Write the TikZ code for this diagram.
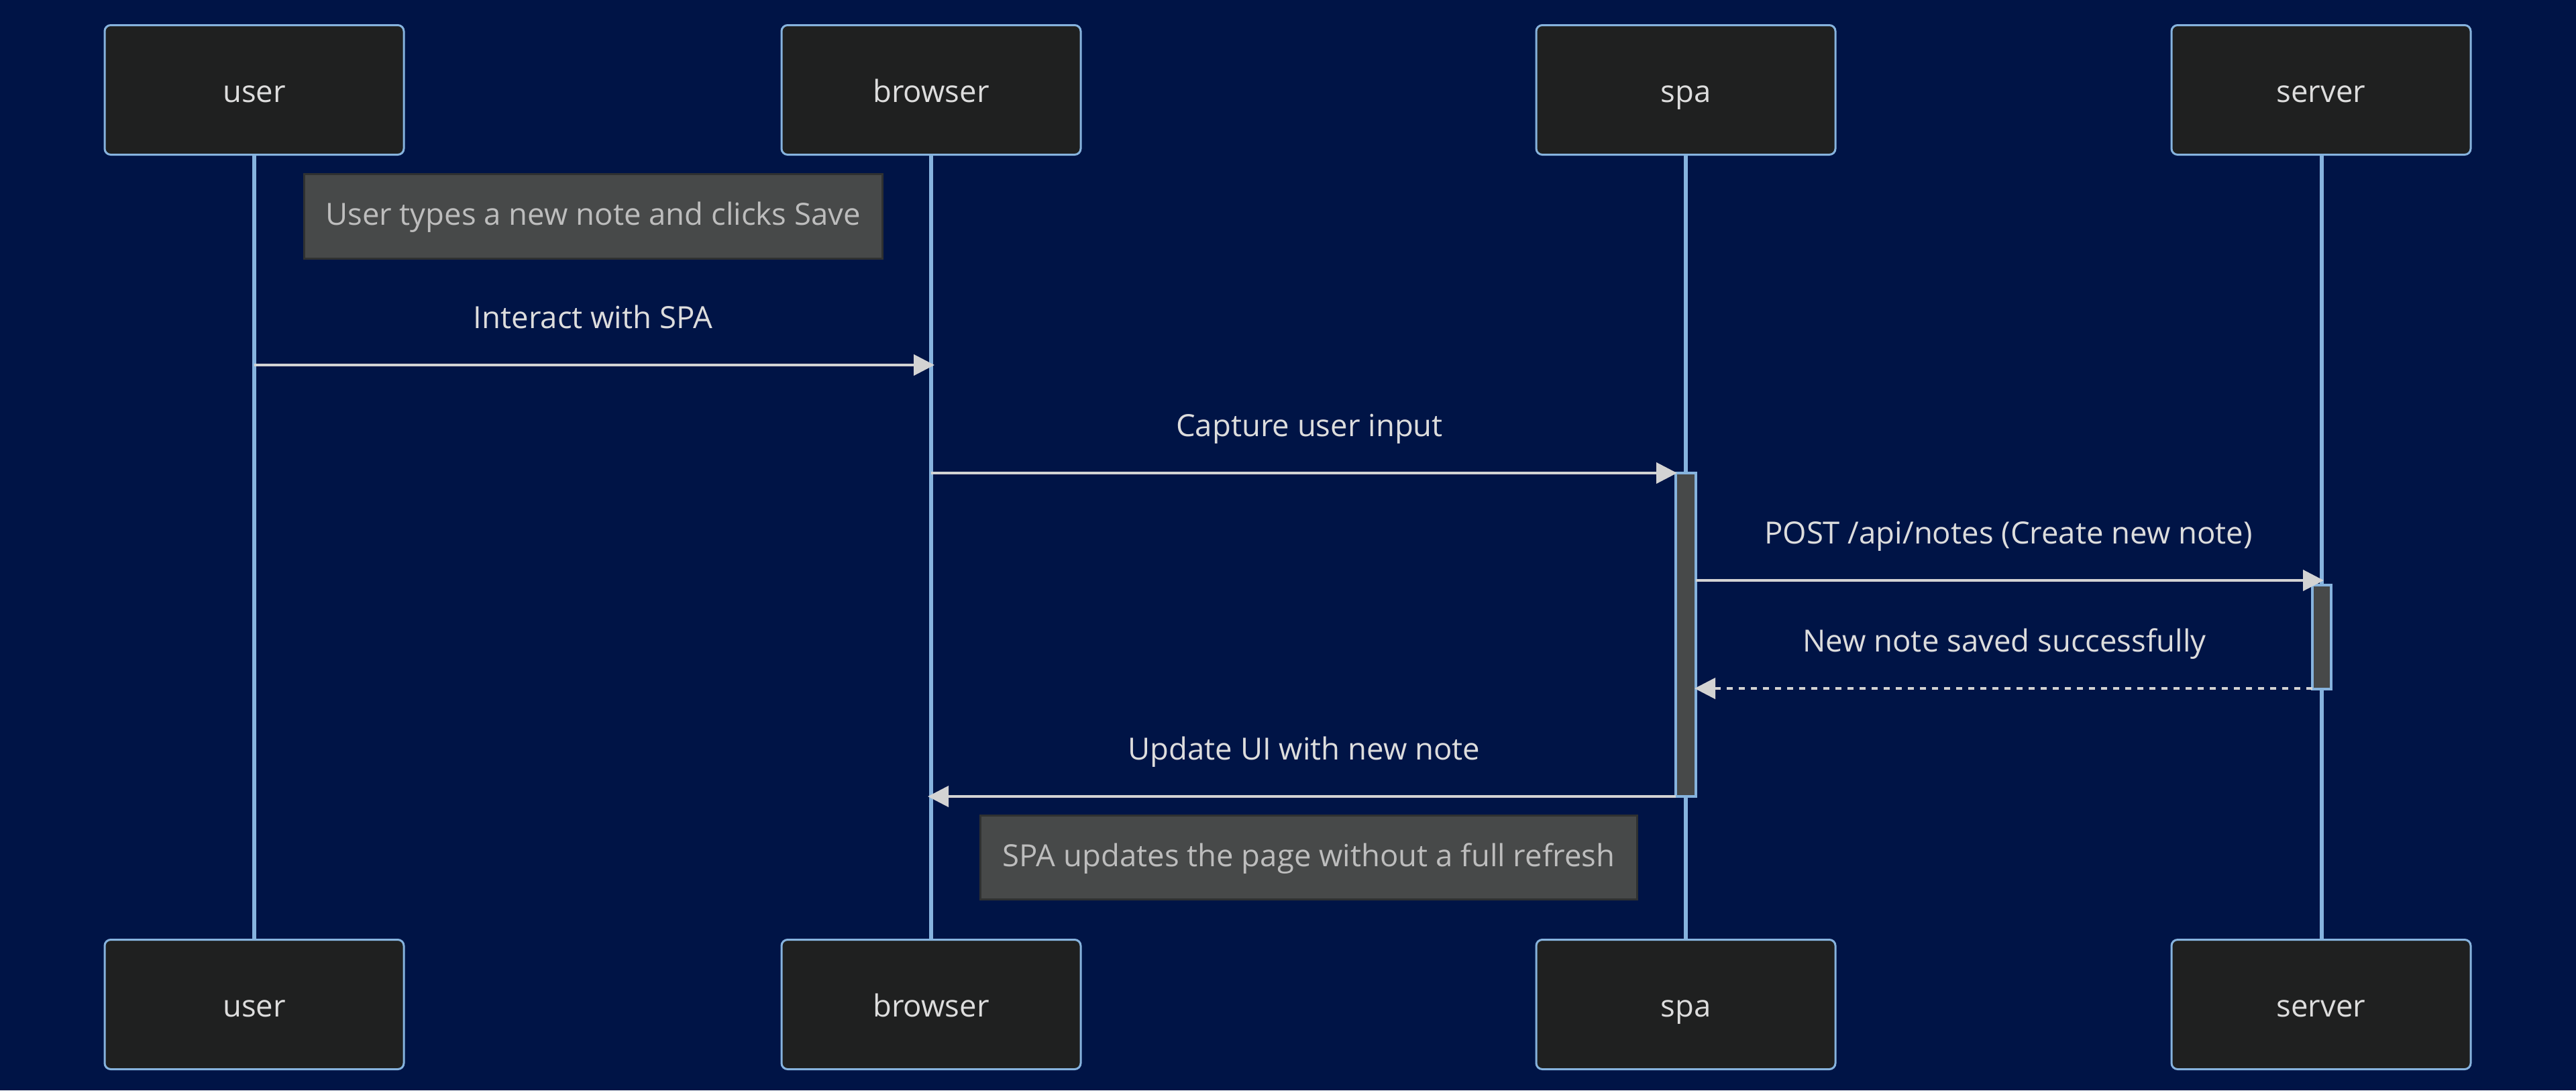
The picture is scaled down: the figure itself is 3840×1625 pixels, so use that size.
\documentclass[tikz,border=0pt]{standalone}
\usepackage{fontspec}
\setmainfont{Open Sans}
\usetikzlibrary{arrows.meta}

\definecolor{bgnavy}{HTML}{001446}
\definecolor{actorfill}{HTML}{1F2020}
\definecolor{actorline}{HTML}{86B3DE}
\definecolor{msgline}{HTML}{D3D3D3}
\definecolor{msgtext}{HTML}{DDDDDD}
\definecolor{notefill}{HTML}{474949}
\definecolor{noteline}{HTML}{2F3131}
\definecolor{notetext}{HTML}{BDBDBD}

\tikzset{
  actorbox/.style={draw=actorline, line width=3pt, fill=actorfill, rounded corners=9pt,
    minimum width=446pt, minimum height=193pt, inner sep=0pt,
    text=msgtext, font=\fontsize{45.5}{54}\selectfont, text height=36pt, text depth=0pt},
  lifeline/.style={draw=actorline, line width=6pt},
  actbar/.style={draw=actorline, line width=3.5pt, fill=notefill},
  notebox/.style={draw=noteline, line width=3pt, fill=notefill, inner sep=0pt,
    text=notetext, font=\fontsize{45.5}{54}\selectfont, text height=33pt, text depth=7pt},
  msg/.style={draw=msgline, line width=4pt, -{Triangle[length=31pt,width=31pt]}},
  reply/.style={msg, dash pattern=on 9pt off 9pt},
  msglabel/.style={anchor=base, text=msgtext, font=\fontsize{45.5}{54}\selectfont, inner sep=0pt}
}

\begin{document}
\begin{tikzpicture}[x=1pt,y=-1pt]
  \fill[bgnavy] (0,0) rectangle (3840,1625);
  \useasboundingbox (0,0) rectangle (3840,1625);

  % lifelines
  \coordinate (uTop) at (379,231);   \coordinate (uBot) at (379,1400);
  \coordinate (bTop) at (1388,231);  \coordinate (bBot) at (1388,1400);
  \coordinate (sTop) at (2513,231);  \coordinate (sBot) at (2513,1400);
  \coordinate (vTop) at (3461,231);  \coordinate (vBot) at (3461,1400);
  \draw[lifeline] (uTop) -- (uBot);
  \draw[lifeline] (bTop) -- (bBot);
  \draw[lifeline] (sTop) -- (sBot);
  \draw[lifeline] (vTop) -- (vBot);

  % participants, top and bottom
  \node[actorbox] (userT)    at (379,134)   {user};
  \node[actorbox] (browserT) at (1388,134)  {browser};
  \node[actorbox] (spaT)     at (2513,134)  {spa};
  \node[actorbox] (serverT)  at (3460,134)  {server};
  \node[actorbox] (userB)    at (379,1497)  {user};
  \node[actorbox] (browserB) at (1388,1497) {browser};
  \node[actorbox] (spaB)     at (2513,1497) {spa};
  \node[actorbox] (serverB)  at (3460,1497) {server};

  % activation bars
  \draw[actbar] (2498,705) rectangle (2528,1187);
  \draw[actbar] (3447,872) rectangle (3475,1027);

  % notes
  \node[notebox, minimum width=862pt, minimum height=126pt] (note1) at (884,322)
    {User types a new note and clicks Save};
  \node[notebox, minimum width=979pt, minimum height=125pt] (note2) at (1951,1278)
    {SPA updates the page without a full refresh};

  % message end points
  \coordinate (m1a) at (379,544);  \coordinate (m1b) at (1393,544);
  \coordinate (m2a) at (1388,705); \coordinate (m2b) at (2500,705);
  \coordinate (m3a) at (2528,865); \coordinate (m3b) at (3464,865);
  \coordinate (m4a) at (3447,1026);\coordinate (m4b) at (2526,1026);
  \coordinate (m5a) at (2498,1187);\coordinate (m5b) at (1383,1187);

  \draw[msg] (m1a) -- (m1b);
  \draw[msg] (m2a) -- (m2b);
  \draw[msg] (m3a) -- (m3b);
  \draw[reply] (m4a) -- (m4b);
  \draw[msg] (m5a) -- (m5b);

  \node[msglabel] (l1) at (884,489)  {Interact with SPA};
  \node[msglabel] (l2) at (1952,650) {Capture user input};
  \node[msglabel] (l3) at (2994,810) {POST /api/notes (Create new note)};
  \node[msglabel] (l4) at (2988,971) {New note saved successfully};
  \node[msglabel] (l5) at (1944,1132) {Update UI with new note};
\end{tikzpicture}
\end{document}
